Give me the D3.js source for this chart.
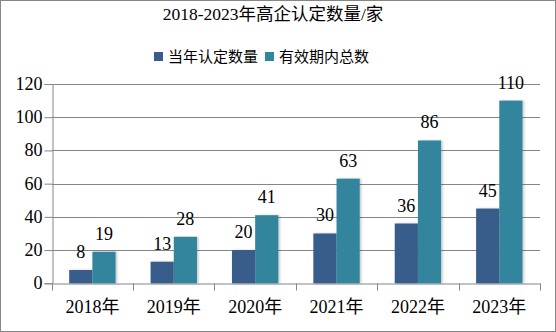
<!DOCTYPE html>
<html><head><meta charset="utf-8">
<script src="https://cdn.jsdelivr.net/npm/d3@7/dist/d3.min.js"></script>
<style>body{margin:0;background:#fff}svg{display:block}</style>
</head><body>
<script>
const categories = ["2018年","2019年","2020年","2021年","2022年","2023年"];
const seriesNames = ["当年认定数量","有效期内总数"];
const newCerts = [8,13,20,30,36,45];
const totalValid = [19,28,41,63,86,110];
const yTicks = [0,20,40,60,80,100,120];
const colors = ["#385D8A","#31859C"];
const FONT = "'Liberation Serif','Noto Sans CJK SC',serif";

(function(){
const W = 556, H = 332;
const svg = d3.select("body").append("svg").attr("width", W).attr("height", H);
svg.append("rect").attr("x",0.5).attr("y",0.5).attr("width",W-1).attr("height",H-1)
  .attr("fill","#fff").attr("stroke","#868686");

const defs = svg.append("defs");
const f = defs.append("filter").attr("id","sh").attr("x","-20%").attr("y","-20%").attr("width","150%").attr("height","140%");
f.append("feDropShadow").attr("dx",1.5).attr("dy",0).attr("stdDeviation",1.2).attr("flood-color","#000").attr("flood-opacity",0.22);

const pLeft = 51.7, pRight = 540, pTop = 84, pBottom = 283.3;
const x = d3.scaleBand().domain(categories).range([pLeft, pRight]).paddingInner(0.43).paddingOuter(0.215);
const y = d3.scaleLinear().domain([0,120]).range([pBottom, pTop]);
const xs = d3.scaleBand().domain([0,1]).range([0, x.bandwidth()]);

// gridlines
svg.append("g").selectAll("line").data(yTicks.filter(d=>d>0)).join("line")
  .attr("x1", pLeft).attr("x2", pRight).attr("y1", d=>Math.round(y(d))+0.5).attr("y2", d=>Math.round(y(d))+0.5)
  .attr("stroke","#868686").attr("stroke-width",1);

// y axis
const yAxis = svg.append("g").attr("transform",`translate(${Math.round(pLeft)+0.5},0)`)
  .call(d3.axisLeft(y).tickValues(yTicks).tickSize(8).tickPadding(2).tickFormat(d3.format("d")));
yAxis.select(".domain").attr("stroke","#868686");
yAxis.selectAll(".tick line").attr("stroke","#868686");
yAxis.selectAll("text").attr("font-family",FONT).attr("font-size",18).attr("fill","#000").attr("dy","0.3em");

// x axis
const xAxis = svg.append("g").attr("transform",`translate(0,${Math.round(pBottom)+0.5})`)
  .call(d3.axisBottom(x).tickSize(0).tickPadding(17));
xAxis.select(".domain").attr("stroke","#868686");
xAxis.selectAll(".tick line").remove();
xAxis.selectAll("text").attr("font-family",FONT).attr("font-size",18).attr("fill","#000");
const bounds = categories.map(c => x(c) - x.step()*x.paddingInner()/2).concat([pRight]);
xAxis.append("g").selectAll("line").data(bounds).join("line")
  .attr("x1", d=>Math.round(d)+0.5).attr("x2", d=>Math.round(d)+0.5).attr("y1",0).attr("y2",7)
  .attr("stroke","#868686");

// bars
const series = [newCerts, totalValid];
series.forEach((vals, si) => {
  const g = svg.append("g");
  g.selectAll("rect").data(vals).join("rect")
    .attr("x", (d,i)=>x(categories[i]) + xs(si))
    .attr("y", d=>y(d))
    .attr("width", xs.bandwidth())
    .attr("height", d=>y(0)-y(d))
    .attr("fill", colors[si])
    .attr("filter","url(#sh)");
  g.selectAll("text").data(vals).join("text")
    .attr("x", (d,i)=>x(categories[i]) + xs(si) + xs.bandwidth()/2)
    .attr("y", d=>y(d) - 12)
    .attr("text-anchor","middle")
    .attr("font-family",FONT).attr("font-size",18).attr("fill","#000")
    .text(d=>d);
});

// title
svg.append("text").attr("x", 273).attr("y", 20).attr("text-anchor","middle")
  .attr("font-family",FONT).attr("font-size",17.5).attr("fill","#000")
  .text("2018-2023年高企认定数量/家");

// legend
const legendX = [154, 265];
seriesNames.forEach((n, i) => {
  svg.append("rect").attr("x", legendX[i]).attr("y", 52).attr("width", 9).attr("height", 9).attr("fill", colors[i]);
  svg.append("text").attr("x", legendX[i] + 14).attr("y", 62)
    .attr("font-family",FONT).attr("font-size",15).attr("fill","#000").text(n);
});
})();
</script>
</body></html>
